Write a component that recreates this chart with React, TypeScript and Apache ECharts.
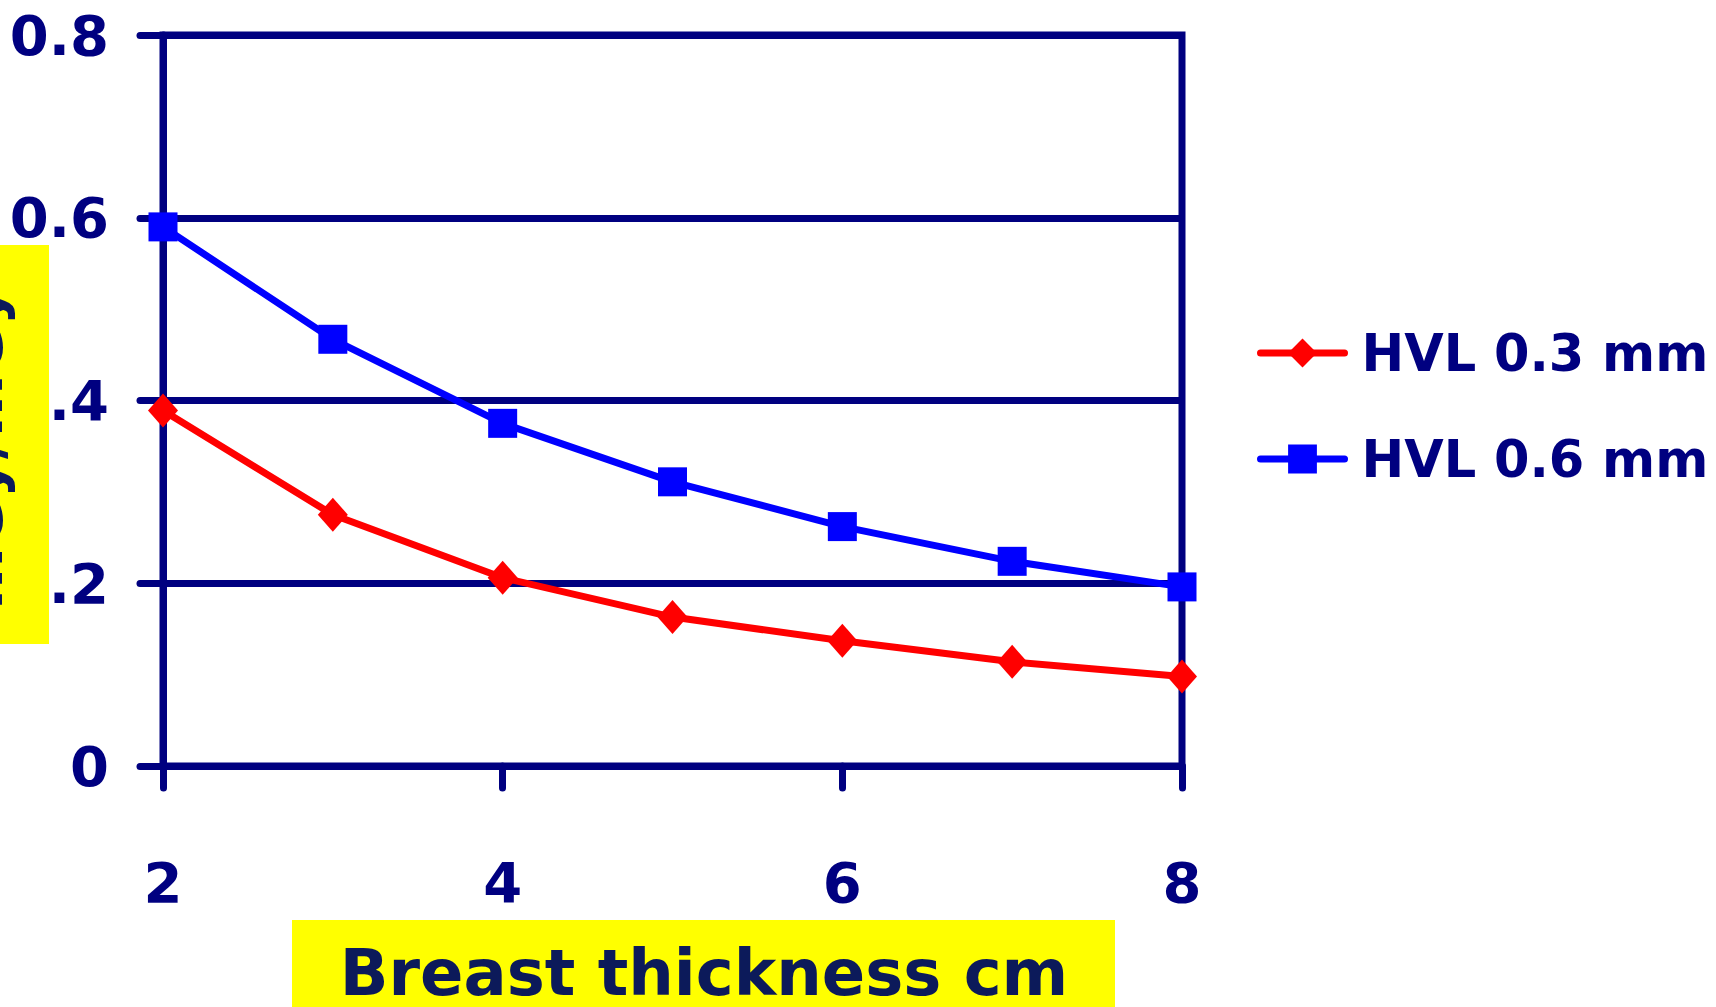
import { useEffect, useRef } from "react";
import * as echarts from "echarts";

// Conversion factor against breast thickness for two half-value layers
const thicknessCm = [2, 3, 4, 5, 6, 7, 8];
const hvl03 = [0.389, 0.275, 0.206, 0.163, 0.137, 0.114, 0.098];
const hvl06 = [0.59, 0.467, 0.375, 0.311, 0.262, 0.224, 0.196];
const seriesNames = ["HVL 0.3 mm", "HVL 0.6 mm"];
const yTickLabels = ["0", ".2", ".4", "0.6", "0.8"];
const xTitle = "Breast thickness cm";
const yTitle = "mGy/mGy";

const NAVY = "#000080";
const TITLE_INK = "#0C1A5A";
const YELLOW = "#FFFF00";
const FONT = "'Comic Sans MS', 'DejaVu Sans', sans-serif";

export default function App() {
  const ref = useRef<HTMLDivElement>(null);

  useEffect(() => {
    if (!ref.current) return;
    const chart = echarts.init(ref.current, undefined, { renderer: "svg" });

    const axisStroke = { color: NAVY, width: 7, cap: "round" as const };

    chart.setOption({
      animation: false,
      backgroundColor: "#ffffff",
      grid: {
        left: 163,
        right: 534,
        top: 35,
        bottom: 241,
        show: true,
        borderColor: NAVY,
        borderWidth: 7,
        backgroundColor: "transparent",
      },
      xAxis: {
        type: "value",
        min: 2,
        max: 8,
        interval: 2,
        axisLine: { show: true, onZero: false, lineStyle: axisStroke },
        axisTick: { show: true, length: 22, lineStyle: axisStroke },
        axisLabel: {
          margin: 88,
          color: NAVY,
          fontSize: 56,
          fontWeight: "bold",
          fontFamily: FONT,
        },
        splitLine: { show: false },
      },
      yAxis: {
        type: "value",
        min: 0,
        max: 0.8,
        interval: 0.2,
        axisLine: { show: true, onZero: false, lineStyle: axisStroke },
        axisTick: { show: true, length: 23, lineStyle: axisStroke },
        axisLabel: {
          margin: 54,
          color: NAVY,
          fontSize: 56,
          fontWeight: "bold",
          fontFamily: FONT,
          formatter: (v: number) => yTickLabels[Math.round(v / 0.2)] ?? "",
        },
        splitLine: { show: true, lineStyle: { color: NAVY, width: 7 } },
      },
      legend: {
        orient: "vertical",
        left: 1252,
        top: 316,
        itemWidth: 84,
        itemHeight: 36,
        itemGap: 42,
        data: seriesNames,
        lineStyle: { width: 7, cap: "round" },
        textStyle: {
          color: NAVY,
          fontSize: 51,
          fontWeight: "bold",
          fontFamily: FONT,
          lineHeight: 64,
          padding: [0, 0, 0, 12],
        },
      },
      series: [
        {
          name: seriesNames[0],
          type: "line",
          data: thicknessCm.map((x, i) => [x, hvl03[i]]),
          symbol: "diamond",
          symbolSize: [30, 34],
          color: "#FF0000",
          itemStyle: { color: "#FF0000" },
          lineStyle: { color: "#FF0000", width: 7 },
          z: 3,
        },
        {
          name: seriesNames[1],
          type: "line",
          data: thicknessCm.map((x, i) => [x, hvl06[i]]),
          symbol: "rect",
          symbolSize: 29,
          color: "#0000FF",
          itemStyle: { color: "#0000FF" },
          lineStyle: { color: "#0000FF", width: 7 },
          z: 3,
        },
      ],
      graphic: [
        {
          type: "rect",
          silent: true,
          shape: { x: 0, y: 245, width: 49, height: 399 },
          style: { fill: YELLOW },
        },
        {
          type: "text",
          silent: true,
          x: -19,
          y: 448,
          rotation: Math.PI / 2,
          style: {
            text: yTitle,
            fill: TITLE_INK,
            fontSize: 60,
            fontWeight: "bold",
            fontFamily: FONT,
            align: "center",
            verticalAlign: "middle",
          },
        },
        {
          type: "rect",
          silent: true,
          shape: { x: 292, y: 920, width: 823, height: 87 },
          style: { fill: YELLOW },
        },
        {
          type: "text",
          silent: true,
          x: 704,
          y: 973,
          style: {
            text: xTitle,
            fill: TITLE_INK,
            fontSize: 64,
            lineHeight: 64,
            fontWeight: "bold",
            fontFamily: FONT,
            align: "center",
            verticalAlign: "middle",
          },
        },
      ],
    });

    return () => chart.dispose();
  }, []);

  return (
    <div
      ref={ref}
      style={{ position: "absolute", left: 0, top: 0, width: 1716, height: 1007 }}
    />
  );
}
